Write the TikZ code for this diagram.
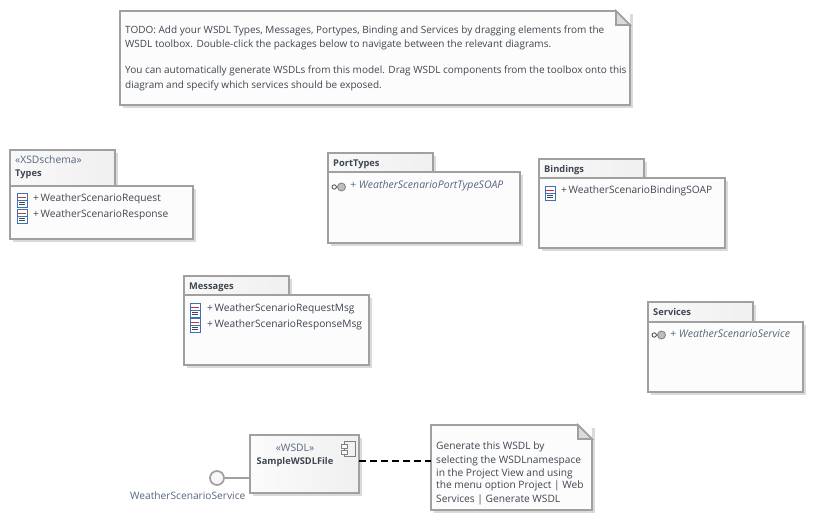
\documentclass[tikz,border=0pt]{standalone}
\usepackage{fontspec}
\setmainfont{Open Sans}
\usetikzlibrary{calc,shadows}
\definecolor{edgegray}{HTML}{A0A0A0}
\definecolor{shadegray}{HTML}{DADADA}
\definecolor{inkgray}{HTML}{3F4650}
\definecolor{stereoblue}{HTML}{56657E}
\definecolor{iconblue}{HTML}{3F6FB5}
\newcommand{\classicon}[2]{%
  \draw[iconblue,fill=white,line width=0.8] (#1,#2) rectangle (#1+10,#2+14);
  \draw[red!60!gray,line width=0.7] (#1+1,#2+4) -- (#1+9,#2+4);
  \draw[iconblue,line width=0.7] (#1,#2+7) -- (#1+10,#2+7);
  \draw[inkgray,line width=0.7] (#1+2,#2+9.5) -- (#1+8,#2+9.5);
  \draw[inkgray,line width=0.7] (#1+2,#2+11.8) -- (#1+8,#2+11.8);
}
\newcommand{\porticon}[2]{%
  \draw[inkgray,line width=0.8] (#1+2.2,#2) circle (2.2) (#1+4.4,#2) -- (#1+6,#2);
  \draw[gray,fill=edgegray!70,line width=0.8] (#1+9.5,#2) circle (4);
}
\begin{document}
\begin{tikzpicture}[x=1pt,y=-1pt]
    \tikzset{line/.style={draw=edgegray,line width=1.7}}
    \tikzset{bodybox/.style={rectangle,inner sep=0pt,outer sep=0pt,anchor=north west,fill=white!98!gray,
        drop shadow={shadow xshift=3pt,shadow yshift=-3pt,fill=shadegray,opacity=1}}}
    \tikzset{tabbox/.style={rectangle,inner sep=0pt,outer sep=0pt,anchor=north west,minimum width=105pt,
        left color=white!95!gray,right color=white!88!gray,
        drop shadow={shadow xshift=3pt,shadow yshift=-3pt,fill=shadegray,opacity=1}}}
    \tikzset{txt/.style={inner sep=0pt,anchor=base west,text=inkgray,font=\fontsize{10.2}{14}\selectfont}}
    \tikzset{notetxt/.style={txt,font=\fontsize{10}{14}\selectfont}}
    \tikzset{title/.style={txt,font=\fontsize{9.3}{14}\selectfont\bfseries}}
    \tikzset{stereo/.style={txt,text=stereoblue,font=\fontsize{10.3}{14}\selectfont}}
    \tikzset{item/.style={txt,font=\fontsize{10.5}{14}\selectfont\itshape,text=stereoblue}}

    \useasboundingbox (0,0) rectangle (813,519);

    % top note
    \node[bodybox,minimum width=510pt,minimum height=94pt] (todo) at (120,11) {};
    \draw[line] (todo.north west) -- ($(todo.north east)+(-14,0)$) -- ($(todo.north east)+(0,14)$)
        -- (todo.south east) -- (todo.south west) -- cycle;
    \filldraw[line,fill=shadegray] ($(todo.north east)+(-14,0)$) -- ($(todo.north east)+(-14,14)$)
        -- ($(todo.north east)+(0,14)$) -- cycle;
    \node[notetxt] (todo1) at (125,34) {TODO: Add your WSDL Types, Messages, Portypes, Binding and Services by dragging elements from the};
    \node[notetxt] (todo2) at (125,48) {WSDL toolbox. Double-click the packages below to navigate between the relevant diagrams.};
    \node[notetxt] (todo3) at (125,74) {You can automatically generate WSDLs from this model. Drag WSDL components from the toolbox onto this};
    \node[notetxt] (todo4) at (125,88) {diagram and specify which services should be exposed.};

    % Types
    \node[tabbox,line,minimum height=36pt] (typestab) at (10,150) {};
    \node[bodybox,line,minimum width=183pt,minimum height=53pt] (types) at (10,186) {};
    \node[stereo] (typesst) at (15,163) {«XSDschema»};
    \node[title] (typesname) at (15,176) {Types};
    \classicon{17}{193}
    \classicon{17}{209}
    \node[txt] (req) at (33,201) {+\,WeatherScenarioRequest};
    \node[txt] (resp) at (33,217) {+\,WeatherScenarioResponse};

    % PortTypes
    \node[tabbox,line,minimum height=19pt] (porttab) at (328,153) {};
    \node[bodybox,line,minimum width=192pt,minimum height=71pt] (port) at (328,172) {};
    \node[title] (portname) at (333,166) {PortTypes};
    \porticon{332}{187}
    \node[item] (portitem) at (350,188) {+ WeatherScenarioPortTypeSOAP};

    % Bindings
    \node[tabbox,line,minimum height=19pt] (bindtab) at (539,159) {};
    \node[bodybox,line,minimum width=186pt,minimum height=70pt] (bind) at (539,178) {};
    \node[title] (bindname) at (544,172) {Bindings};
    \classicon{545}{186}
    \node[txt] (binditem) at (561,193) {+\,WeatherScenarioBindingSOAP};

    % Messages
    \node[tabbox,line,minimum height=19pt] (msgtab) at (184,276) {};
    \node[bodybox,line,minimum width=185pt,minimum height=70pt] (msg) at (184,295) {};
    \node[title] (msgname) at (189,289) {Messages};
    \classicon{190}{303}
    \classicon{190}{318}
    \node[txt] (msgreq) at (207,311) {+\,WeatherScenarioRequestMsg};
    \node[txt] (msgresp) at (207,327) {+\,WeatherScenarioResponseMsg};

    % Services
    \node[tabbox,line,minimum height=20pt] (srvtab) at (648,302) {};
    \node[bodybox,line,minimum width=155pt,minimum height=70pt] (srv) at (648,322) {};
    \node[title] (srvname) at (653,315) {Services};
    \porticon{652}{335}
    \node[item] (srvitem) at (670,337) {+ WeatherScenarioService};

    % component with its interface
    \node[bodybox,line,minimum width=109pt,minimum height=58pt,left color=white!97!gray,right color=white!88!gray] (wsdl) at (250,435) {};
    \node[stereo,anchor=base] (wsdlst) at (295,451) {«WSDL»};
    \node[title,anchor=base] (wsdlname) at (295,464) {SampleWSDLFile};
    \draw[draw=gray,line width=0.8] (344,441) rectangle (355,456);
    \filldraw[draw=gray,fill=white!95!gray,line width=0.8] (341,444) rectangle (347,448);
    \filldraw[draw=gray,fill=white!95!gray,line width=0.8] (341,450) rectangle (347,454);
    \node[circle,line,inner sep=0pt,minimum size=14pt,fill=white!94!gray] (iface) at (217,478) {};
    \draw[line] (iface) -- (wsdl.west |- iface);
    \node[txt,text=stereoblue] (ifacename) at (130,499) {WeatherScenarioService};

    % lower note
    \node[bodybox,minimum width=161pt,minimum height=85pt] (hint) at (431,425) {};
    \draw[line] (hint.north west) -- ($(hint.north east)+(-14,0)$) -- ($(hint.north east)+(0,14)$)
        -- (hint.south east) -- (hint.south west) -- cycle;
    \filldraw[line,fill=shadegray] ($(hint.north east)+(-14,0)$) -- ($(hint.north east)+(-14,14)$)
        -- ($(hint.north east)+(0,14)$) -- cycle;
    \node[txt] (hint1) at (436,449) {Generate this WSDL by};
    \node[txt] (hint2) at (436,463) {selecting the WSDLnamespace};
    \node[txt] (hint3) at (436,476) {in the Project View and using};
    \node[txt] (hint4) at (436,488) {the menu option Project | Web};
    \node[txt] (hint5) at (436,502) {Services | Generate WSDL};
    \draw[black,line width=1.8,dash pattern=on 7pt off 4pt] (wsdl.east |- 0,461) -- (hint.west |- 0,461);
\end{tikzpicture}
\end{document}
